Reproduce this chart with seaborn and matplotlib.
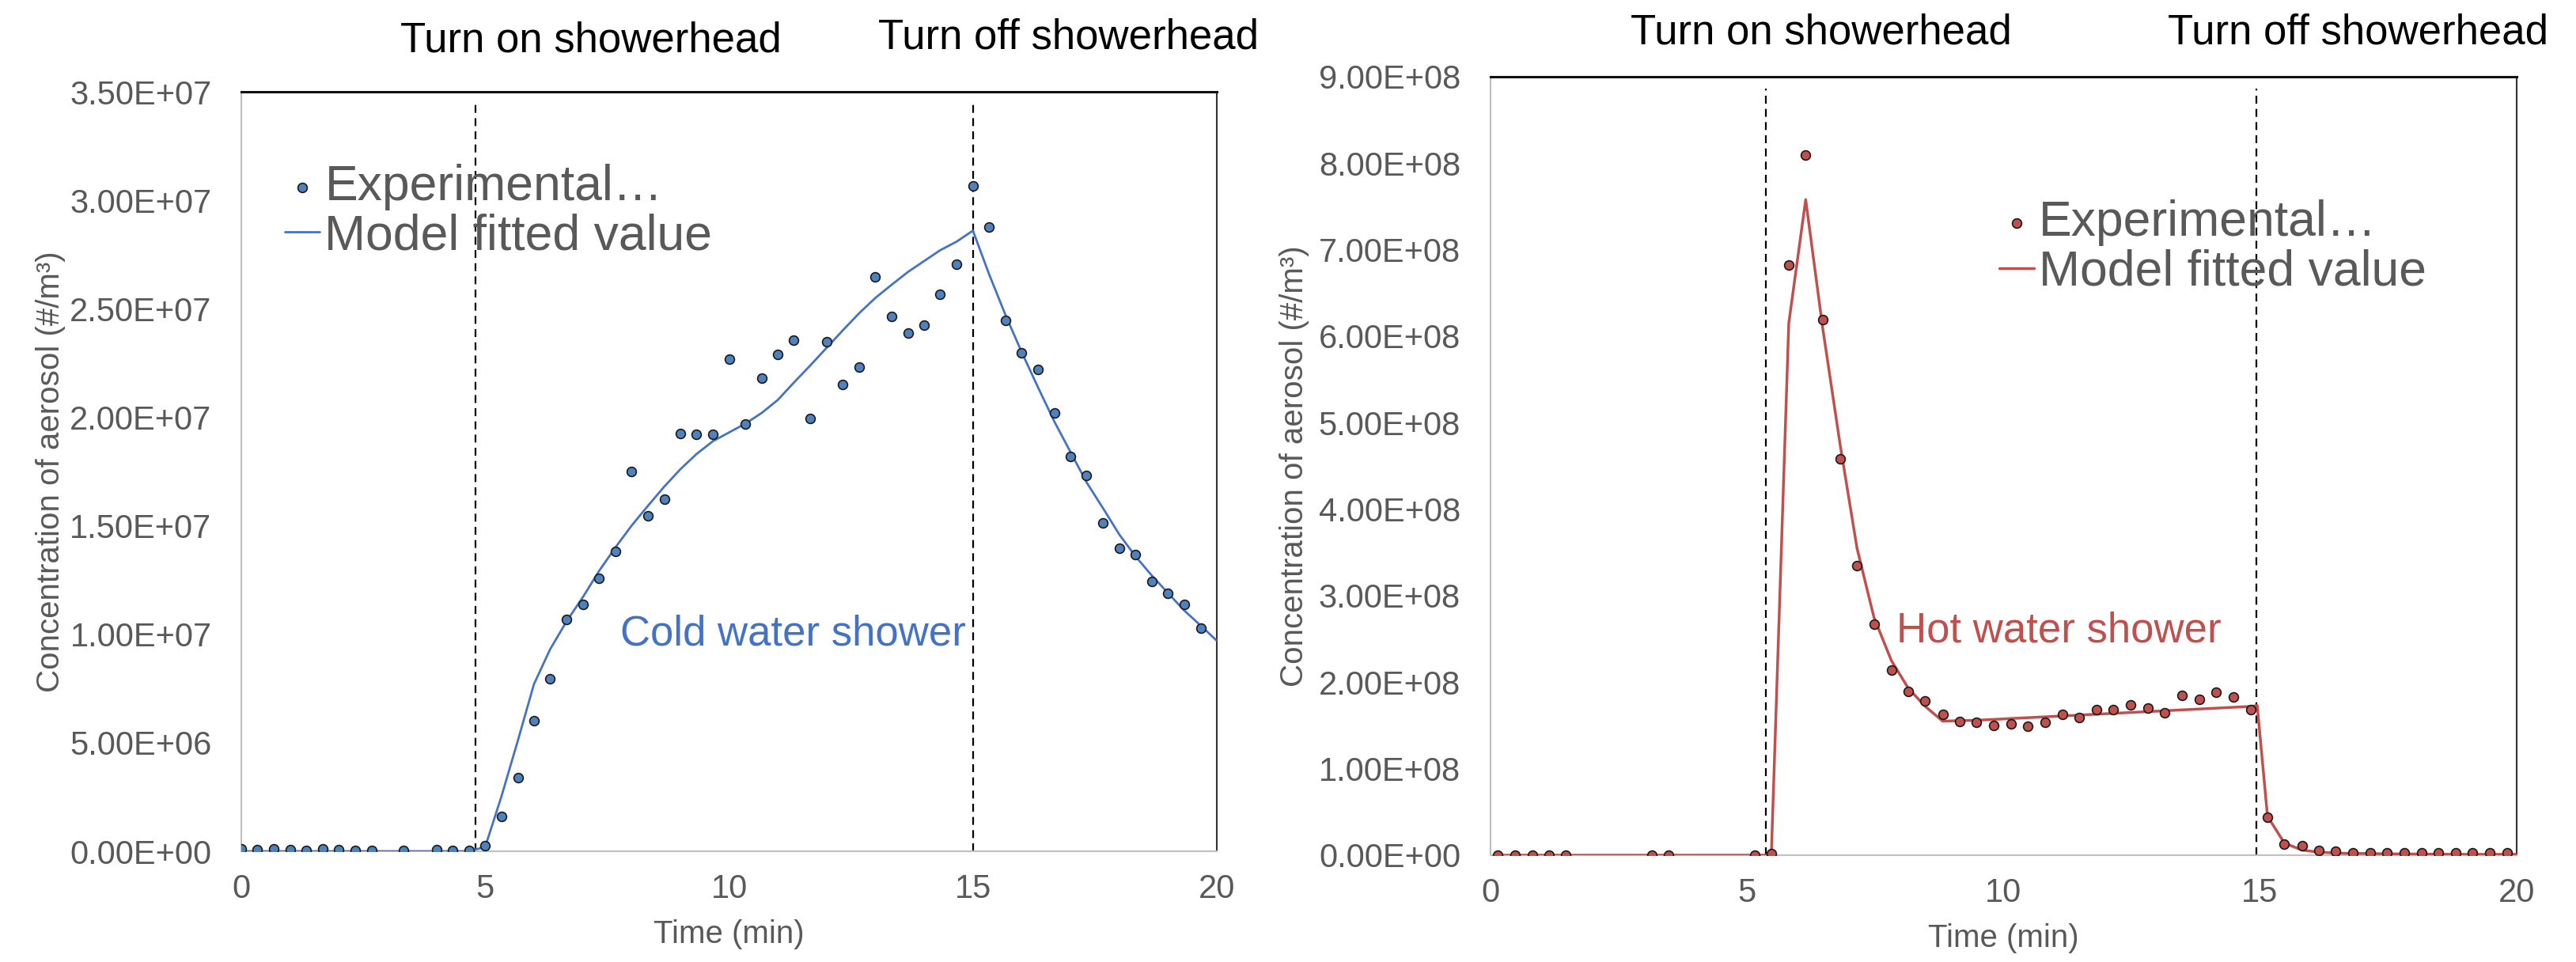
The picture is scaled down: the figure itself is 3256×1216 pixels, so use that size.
import matplotlib
matplotlib.use("Agg")
import matplotlib.pyplot as plt
import seaborn as sns
import pandas as pd
from matplotlib.ticker import FixedLocator, FuncFormatter

# ---------------- data ----------------
# Cold water shower (left)
cold_exp_time = [0.0, 0.33, 0.67, 1.0, 1.33, 1.67, 2.0, 2.33, 2.67, 3.33, 4.0, 4.33, 4.67,
                 5.0, 5.33, 5.67, 6.0, 6.33, 6.67, 7.0, 7.33, 7.67, 8.0, 8.33, 8.67,
                 9.0, 9.33, 9.67, 10.0, 10.33, 10.67, 11.0, 11.33, 11.67, 12.0, 12.33, 12.67,
                 13.0, 13.33, 13.67, 14.0, 14.33, 14.67, 15.0, 15.33, 15.67, 16.0, 16.33, 16.67,
                 17.0, 17.33, 17.67, 18.0, 18.33, 18.67, 19.0, 19.33, 19.67]
cold_exp_value = [0.10e6, 0.08e6, 0.10e6, 0.09e6, 0.03e6, 0.10e6, 0.09e6, 0.03e6, 0.03e6, 0.02e6, 0.08e6, 0.03e6, 0.03e6,
                  0.24e6, 1.59e6, 3.38e6, 6.03e6, 7.94e6, 10.68e6, 11.38e6, 12.59e6, 13.80e6, 17.49e6, 15.47e6, 16.22e6,
                  19.26e6, 19.21e6, 19.21e6, 22.68e6, 19.68e6, 21.79e6, 22.91e6, 23.54e6, 19.96e6, 23.49e6, 21.52e6, 22.33e6,
                  26.47e6, 24.63e6, 23.89e6, 24.24e6, 25.65e6, 27.05e6, 30.67e6, 28.77e6, 24.45e6, 22.96e6, 22.21e6, 20.19e6,
                  18.19e6, 17.31e6, 15.12e6, 13.96e6, 13.68e6, 12.42e6, 11.89e6, 11.38e6, 10.28e6]
cold_model_time = [0.0, 0.33, 0.67, 1.0, 1.33, 1.67, 2.0, 2.33, 2.67, 3.0, 3.33, 3.67, 4.0, 4.33, 4.67,
                   5.0, 5.33, 5.67, 6.0, 6.33, 6.67, 7.0, 7.33, 7.67, 8.0, 8.33, 8.67, 9.0, 9.33, 9.67,
                   10.0, 10.33, 10.67, 11.0, 11.33, 11.67, 12.0, 12.33, 12.67, 13.0, 13.33, 13.67, 14.0, 14.33, 14.67,
                   15.0, 15.33, 15.67, 16.0, 16.33, 16.67, 17.0, 17.33, 17.67, 18.0, 18.33, 18.67, 19.0, 19.33, 19.67, 20.0]
cold_model_value = [0.0, 0.0, 0.0, 0.0, 0.0, 0.0, 0.0, 0.0, 0.0, 0.0, 0.0, 0.0, 0.0, 0.0, 0.0,
                    0.2e6, 2.5e6, 5.1e6, 7.7e6, 9.3e6, 10.6e6, 11.7e6, 12.9e6, 14.0e6, 15.0e6, 15.9e6, 16.8e6, 17.6e6, 18.3e6, 18.9e6,
                    19.3e6, 19.7e6, 20.2e6, 20.8e6, 21.6e6, 22.4e6, 23.2e6, 24.0e6, 24.8e6, 25.5e6, 26.1e6, 26.7e6, 27.2e6, 27.7e6, 28.1e6,
                    28.6e6, 26.6e6, 24.7e6, 23.0e6, 21.4e6, 19.8e6, 18.4e6, 17.0e6, 15.8e6, 14.6e6, 13.6e6, 12.7e6, 11.9e6, 11.1e6, 10.4e6, 9.7e6]

# Hot water shower (right)
hot_exp_time = [0.15, 0.48, 0.82, 1.15, 1.48, 3.15, 3.48, 5.15, 5.48, 5.82, 6.15, 6.48, 6.82,
                7.15, 7.48, 7.82, 8.15, 8.48, 8.82, 9.15, 9.48, 9.82, 10.15, 10.48, 10.82,
                11.15, 11.48, 11.82, 12.15, 12.48, 12.82, 13.15, 13.48, 13.82, 14.15, 14.48, 14.82,
                15.15, 15.48, 15.82, 16.15, 16.48, 16.82, 17.15, 17.48, 17.82, 18.15, 18.48, 18.82,
                19.15, 19.48, 19.82]
hot_exp_value = [0.0, 0.0, 0.0, 0.0, 0.0, 0.0, 0.0, 0.0, 0.02e8, 6.82e8, 8.09e8, 6.19e8, 4.58e8,
                 3.35e8, 2.67e8, 2.14e8, 1.89e8, 1.78e8, 1.63e8, 1.55e8, 1.54e8, 1.50e8, 1.52e8, 1.49e8, 1.54e8,
                 1.63e8, 1.59e8, 1.68e8, 1.68e8, 1.74e8, 1.70e8, 1.65e8, 1.85e8, 1.80e8, 1.88e8, 1.83e8, 1.68e8,
                 0.44e8, 0.13e8, 0.11e8, 0.054e8, 0.042e8, 0.03e8, 0.03e8, 0.03e8, 0.03e8, 0.03e8, 0.03e8, 0.03e8,
                 0.03e8, 0.03e8, 0.03e8]
hot_model_time = [0.15, 0.48, 0.82, 1.15, 1.48, 1.82, 2.15, 2.48, 2.82, 3.15, 3.48, 3.82, 4.15, 4.48, 4.82,
                  5.15, 5.48, 5.82, 6.15, 6.48, 6.82, 7.15, 7.48, 7.82, 8.15, 8.48, 8.82, 9.15, 9.48, 9.82,
                  10.15, 10.48, 10.82, 11.15, 11.48, 11.82, 12.15, 12.48, 12.82, 13.15, 13.48, 13.82, 14.15, 14.48, 14.82,
                  14.95, 15.15, 15.48, 15.82, 16.15, 16.48, 16.82, 17.15, 17.48, 17.82, 18.15, 18.48, 18.82, 19.15, 19.48,
                  19.82, 20.0]
hot_model_value = [0.0, 0.0, 0.0, 0.0, 0.0, 0.0, 0.0, 0.0, 0.0, 0.0, 0.0, 0.0, 0.0, 0.0, 0.0,
                   0.0, 0.0, 6.15e8, 7.58e8, 6.10e8, 4.75e8, 3.55e8, 2.75e8, 2.25e8, 1.93e8, 1.72e8, 1.55e8, 1.555e8, 1.56e8, 1.57e8,
                   1.58e8, 1.59e8, 1.60e8, 1.61e8, 1.62e8, 1.63e8, 1.64e8, 1.65e8, 1.66e8, 1.67e8, 1.68e8, 1.69e8, 1.70e8, 1.71e8, 1.72e8,
                   1.73e8, 0.45e8, 0.14e8, 0.06e8, 0.035e8, 0.025e8, 0.02e8, 0.02e8, 0.015e8, 0.015e8, 0.012e8, 0.012e8, 0.01e8, 0.01e8, 0.01e8,
                   0.01e8, 0.01e8]

cold_events = [4.8, 15.0]
hot_events = [5.38, 14.94]
event_labels = ["Turn on showerhead", "Turn off showerhead"]
cold_yticks = [0, 5e6, 1e7, 1.5e7, 2e7, 2.5e7, 3e7, 3.5e7]
hot_yticks = [0, 1e8, 2e8, 3e8, 4e8, 5e8, 6e8, 7e8, 8e8, 9e8]
xticks = [0, 5, 10, 15, 20]

# ---------------- style ----------------
sns.set_theme(style="white")
plt.rcParams['font.family'] = ['Liberation Sans', 'DejaVu Sans']

GRAY = '#595959'
BLUE = '#4472C4'
BLUE_FILL = '#4F81BD'
RED = '#C0504D'

fig = plt.figure(figsize=(32.56, 12.16), dpi=100)
ax1 = fig.add_axes([305/3256, 1-1076/1216, 1233/3256, 960/1216])
ax2 = fig.add_axes([1883.5/3256, 1-1081/1216, 1297.1/3256, 984/1216])

sci = FuncFormatter(lambda v, p: '{:.2E}'.format(v))

def setup(ax, yticks, events, ylab_x, xlab_y, color, fill, exp_t, exp_v, mod_t, mod_v, lw):
    dfe = pd.DataFrame({'t': exp_t, 'v': exp_v})
    dfm = pd.DataFrame({'t': mod_t, 'v': mod_v})
    sns.lineplot(data=dfm, x='t', y='v', ax=ax, color=color, lw=lw, sort=False,
                 estimator=None, label='Model fitted value', zorder=3)
    sns.scatterplot(data=dfe, x='t', y='v', ax=ax, color=fill, s=72, edgecolor='#1a1a1a',
                    linewidth=1.2, label='Experimental…', zorder=4)
    for e in events:
        ax.axvline(e, ymin=0, ymax=0.985, color='black', lw=1.6, dashes=(4.5, 3), zorder=2)
    ax.set_xlim(0, 20)
    ax.set_ylim(yticks[0], yticks[-1])
    ax.xaxis.set_major_locator(FixedLocator(xticks))
    ax.yaxis.set_major_locator(FixedLocator(yticks))
    ax.yaxis.set_major_formatter(sci)
    ax.tick_params(axis='both', length=0, labelsize=30, labelcolor=GRAY)
    ax.tick_params(axis='y', pad=27)
    ax.tick_params(axis='x', pad=20)
    ax.set_xlabel('Time (min)', fontsize=29, color=GRAY)
    ax.set_ylabel('Concentration of aerosol (#/m³)', fontsize=29, color=GRAY)
    ax.yaxis.set_label_coords(ylab_x, 0.5)
    ax.xaxis.set_label_coords(0.5, xlab_y)
    for s in ['left', 'bottom']:
        ax.spines[s].set_color('#BFBFBF')
        ax.spines[s].set_linewidth(1.5)
    ax.spines['top'].set_color('#111111')
    ax.spines['top'].set_linewidth(2.2)
    ax.spines['right'].set_color('#333333')
    ax.spines['right'].set_linewidth(1.5)
    for s in ax.spines.values():
        s.set_visible(True)
    ax.grid(False)

setup(ax1, cold_yticks, cold_events, -0.180, -0.09, BLUE, BLUE_FILL,
      cold_exp_time, cold_exp_value, cold_model_time, cold_model_value, 2.0)
setup(ax2, hot_yticks, hot_events, -0.176, -0.087, RED, RED,
      hot_exp_time, hot_exp_value, hot_model_time, hot_model_value, 2.5)

# legends
for ax, anchor in [(ax1, (0.045, 0.905)), (ax2, (0.496, 0.842))]:
    h, l = ax.get_legend_handles_labels()
    order = [l.index('Experimental…'), l.index('Model fitted value')]
    leg = ax.legend([h[i] for i in order], [l[i] for i in order], loc='upper left',
                    bbox_to_anchor=anchor, frameon=False, fontsize=45,
                    handlelength=0.7, handletextpad=0.1, labelspacing=0.05,
                    borderpad=0, borderaxespad=0, markerscale=1.0)
    for t in leg.get_texts():
        t.set_color(GRAY)

# annotations
ax1.text(7.77, 1.0e7, 'Cold water shower', color=BLUE, fontsize=38, ha='left', va='center')
ax2.text(7.92, 2.59e8, 'Hot water shower', color=RED, fontsize=38, ha='left', va='center')

fig.text(747/3256, 1-52/1216, event_labels[0], fontsize=38, color='black', ha='center', va='center')
fig.text(1350/3256, 1-48/1216, event_labels[1], fontsize=38, color='black', ha='center', va='center')
fig.text(2302/3256, 1-42/1216, event_labels[0], fontsize=38, color='black', ha='center', va='center')
fig.text(2980/3256, 1-41/1216, event_labels[1], fontsize=38, color='black', ha='center', va='center')

fig.savefig('out.png', dpi=100, facecolor='white')
